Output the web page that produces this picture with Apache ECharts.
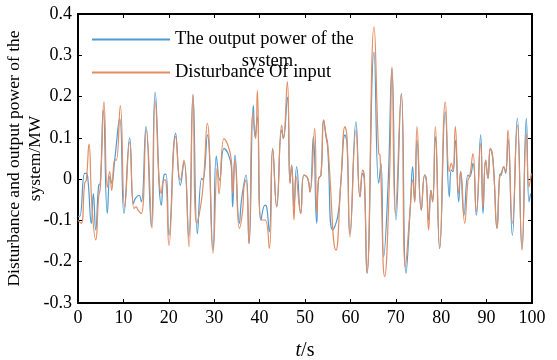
<!DOCTYPE html>
<html>
<head>
<meta charset="utf-8">
<script src="https://cdn.jsdelivr.net/npm/echarts@6/dist/echarts.min.js"></script>
<style>
  html, body { margin: 0; padding: 0; background: #fff; }
  #chart { width: 557px; height: 360px; }
</style>
</head>
<body>
<div id="chart"></div>
<script>
// values
const outT = [0, 0.37, 1.47, 1.84, 2.2, 2.94, 3.38, 3.9, 4.55, 4.92, 5.58, 6.46, 7.05, 7.42, 8.08, 9.18, 10.13, 11.38, 12.19, 12.63, 13.44, 13.95, 14.98, 16.15, 17.0,
  18.36, 18.94, 19.38, 20.04, 21.51, 22.54, 23.35, 24.38, 25.33, 26.3, 27.24, 27.53, 28.49, 29.74, 30.47, 31.2, 32.16, 33.04, 33.77,
  34.07, 34.58, 35.54, 36.05, 37.0, 37.67, 38.62, 38.99, 39.5, 40.31, 41.19, 41.56, 42.14, 42.88, 43.76, 44.86, 45.23, 46.11, 46.7, 47.06, 47.58, 48.16, 49.05, 49.78,
  50.59, 51.1, 51.84, 52.57, 53.01, 53.52, 54.11, 54.63, 54.99, 56.09, 57.2, 57.93, 58.81, 59.25, 59.91, 61.23, 62.11, 62.7, 63.07, 63.66, 65.2, 66.23, 66.74,
  67.33, 68.28, 69.16, 70.04, 71.22, 72.25, 73.2, 73.71, 74.16, 74.67, 75.62, 76.36, 76.72, 77.24, 77.75, 78.12, 78.71, 79.66, 80.91, 81.79, 82.23, 82.6, 83.11, 83.85,
  84.29, 85.02, 85.9, 86.27, 87.0, 87.74, 88.69, 89.21, 89.79, 90.31, 90.82, 91.41, 92.29, 92.88, 93.24, 93.76, 94.2, 94.71, 95.67, 96.77, 97.8, 98.75, 99.34, 99.7];
const outV = [-0.09, -0.09, 0.014, 0.014, -0.002, -0.107, -0.035, -0.123, -0.015, -0.01, 0.167, -0.083, 0.006, -0.01, 0.046, 0.147, -0.083, 0.10, -0.059, -0.047, -0.039, -0.055, 0.127, -0.115, 0.21,
  -0.063, 0.010, 0.012, -0.136, 0.111, -0.015, 0.042, -0.14, 0.203, -0.132, 0.002, -0.002, 0.107, -0.172, 0.056, -0.002, 0.074, 0.062, 0.03,
  -0.067, 0.058, -0.107, -0.047, 0.010, -0.156, 0.179, 0.103, 0.151, -0.099, -0.063, -0.067, -0.128, 0.074, -0.067, 0.119, 0.098, 0.199, -0.01, 0.034, -0.067, 0.03, -0.083, 0.01,
  0.002, -0.031, 0.103, -0.107, 0.002, 0.01, 0.143, 0.103, 0.078, -0.123, -0.091, -0.002, 0.107, 0.086, -0.132, 0.139, -0.043, 0.014, -0.002, -0.228, 0.308, -0.01, 0.038,
  -0.188, -0.019, 0.268, -0.099, 0.207, -0.228, -0.067, 0.03, -0.055, 0.094, -0.075, 0.01, -0.002, -0.099, -0.027, -0.055, 0.103, -0.168, 0.163, -0.043, 0.022, 0.018, 0.094, -0.055,
  0.018, -0.087, 0.01, 0.006, 0.038, -0.087, 0.107, -0.083, 0.046, 0.002, 0.074, 0.046, -0.119, 0.01, 0.014, 0.03, 0.014, 0.098, -0.136, 0.147, -0.168, 0.147, -0.055, -0.035];

const distT = [0, 0.7, 1.47, 1.84, 2.42, 3.08, 3.9, 4.55, 4.92, 5.73, 6.46, 6.97, 7.42, 8.08, 8.44, 9.32, 10.28, 11.38, 12.33, 12.85, 13.2, 13.95, 15.05, 16.3, 17.0,
  18.36, 18.94, 19.38, 20.04, 21.51, 22.54, 23.35, 24.45, 25.33, 26.14, 27.39, 28.49, 29.74, 30.69, 31.06, 32.16, 32.89, 33.77,
  34.07, 34.58, 35.54, 36.27, 36.56, 37.0, 37.67, 38.47, 39.13, 39.5, 40.31, 41.19, 42.14, 42.88, 43.76, 44.86, 45.23, 46.11, 46.7, 47.06, 47.58, 48.02, 49.05, 49.78,
  50.59, 51.1, 52.13, 52.57, 53.01, 53.52, 54.11, 54.63, 54.99, 56.83, 57.93, 58.81, 59.25, 59.91, 61.23, 62.11, 62.7, 63.07, 63.66, 65.2, 66.23, 66.52,
  67.55, 68.58, 69.16, 69.9, 71.22, 72.1, 73.2, 73.71, 74.16, 74.67, 75.62, 76.36, 76.72, 77.24, 77.75, 78.12, 78.71, 79.66, 80.91, 81.79, 82.23, 82.6, 83.11, 83.85,
  84.29, 85.17, 85.9, 86.27, 87.0, 87.74, 88.69, 89.21, 89.79, 90.31, 90.82, 91.41, 92.29, 92.88, 93.24, 93.76, 94.2, 94.71, 95.67, 96.77, 97.8, 98.75, 99.34, 99.85];
const distV = [-0.10, -0.107, -0.01, -0.002, 0.085, -0.067, -0.147, -0.043, -0.02, 0.187, -0.02, 0.018, -0.027, 0.046, 0.046, 0.178, -0.067, 0.09, -0.071, -0.067, -0.075, -0.083, 0.119, -0.119, 0.19,
  -0.035, -0.002, -0.004, -0.16, 0.103, -0.002, 0.046, -0.164, 0.206, -0.107, -0.035, 0.135, -0.18, 0.03, -0.035, 0.098, 0.086, 0.046,
  -0.035, 0.046, -0.119, -0.075, -0.019, -0.002, -0.156, 0.159, 0.098, 0.215, -0.099, -0.099, -0.168, 0.074, -0.067, 0.131, 0.098, 0.236, -0.01, 0.034, -0.099, 0.006, -0.083, 0.01,
  0.002, -0.031, 0.123, -0.083, 0.002, 0.01, 0.143, 0.107, 0.086, -0.172, -0.002, 0.127, 0.103, -0.14, 0.119, -0.043, 0.022, 0.006, -0.228, 0.369, 0.062, 0.058,
  -0.236, -0.01, 0.272, -0.083, 0.207, -0.212, -0.067, -0.002, -0.055, 0.127, -0.075, 0.01, -0.002, -0.123, -0.027, -0.055, 0.127, -0.168, 0.187, 0.018, 0.038, 0.022, 0.127, -0.035,
  0.018, -0.107, -0.002, 0.006, 0.062, -0.079, 0.086, -0.067, 0.046, 0.002, 0.074, 0.046, -0.119, 0.006, 0.01, 0.03, 0.018, 0.119, -0.107, 0.131, -0.172, 0.11, -0.019, 0.014];

const xTicks = [0, 10, 20, 30, 40, 50, 60, 70, 80, 90, 100];
const yTicks = ['-0.3', '-0.2', '-0.1', '0', '0.1', '0.2', '0.3', '0.4'];

const font = 'Liberation Serif';
const pairs = (t, v) => t.map((x, i) => [x, v[i]]);

const chart = echarts.init(document.getElementById('chart'));

const frame = { show: true, onZero: false, lineStyle: { color: '#000', width: 2 } };
const ticksIn = { show: true, inside: true, length: 4, lineStyle: { color: '#000', width: 1 } };

chart.setOption({
  animation: false,
  grid: { left: 78, right: 25, top: 14, bottom: 57, containLabel: false, outerBoundsMode: 'none' },
  legend: [
    {
      data: ['The output power of the system'],
      left: 87, top: 3,
      icon: 'rect', itemWidth: 78, itemHeight: 2,
      formatter: () => '{z| }\n{a|The output power of the}\n{b|system}',
      textStyle: {
        fontFamily: font, fontSize: 18, color: '#000',
        rich: {
          z: { fontFamily: font, fontSize: 18.5, lineHeight: 22 },
          a: { fontFamily: font, fontSize: 18.5, lineHeight: 22 },
          b: { fontFamily: font, fontSize: 18.5, lineHeight: 22, width: 185, align: 'center' }
        }
      }
    },
    {
      data: ['Disturbance Of input'],
      left: 87, top: 58,
      icon: 'rect', itemWidth: 78, itemHeight: 2,
      textStyle: { fontFamily: font, fontSize: 18.5, color: '#000' }
    }
  ],
  xAxis: [
    {
      type: 'value', min: 0, max: 100, interval: 10,
      name: '{i|t}/s', nameLocation: 'middle', nameGap: 38,
      nameTextStyle: {
        fontFamily: font, fontSize: 20, color: '#000',
        rich: { i: { fontFamily: font, fontSize: 20, fontStyle: 'italic', color: '#000' } }
      },
      axisLine: frame, axisTick: ticksIn, splitLine: { show: false },
      axisLabel: {
        fontFamily: font, fontSize: 18, color: '#000', margin: 6,
        formatter: v => String(xTicks[Math.round(v / 10)])
      }
    },
    {
      type: 'value', min: 0, max: 100, interval: 10, position: 'top',
      axisLine: frame, axisTick: ticksIn, splitLine: { show: false },
      axisLabel: { show: false }
    }
  ],
  yAxis: [
    {
      type: 'value', min: -0.3, max: 0.4, interval: 0.1,
      name: 'Disturbance and output power of the\nsystem/MW',
      nameLocation: 'middle', nameRotate: 90, nameGap: 32, nameMoveOverlap: false,
      nameTextStyle: { fontFamily: font, fontSize: 17.5, color: '#000', lineHeight: 21 },
      axisLine: frame, axisTick: ticksIn, splitLine: { show: false },
      axisLabel: {
        fontFamily: font, fontSize: 18, color: '#000', margin: 6,
        formatter: v => yTicks[Math.round(v * 10) + 3]
      }
    },
    {
      type: 'value', min: -0.3, max: 0.4, interval: 0.1, position: 'right',
      axisLine: frame, axisTick: ticksIn, splitLine: { show: false },
      axisLabel: { show: false }
    }
  ],
  series: [
    {
      name: 'The output power of the system',
      type: 'line', data: pairs(outT, outV),
      showSymbol: false, smooth: 0.5,
      itemStyle: { color: '#4f9bd0' },
      lineStyle: { color: '#4f9bd0', width: 1.2 }
    },
    {
      name: 'Disturbance Of input',
      type: 'line', data: pairs(distT, distV),
      showSymbol: false, smooth: 0.5,
      itemStyle: { color: '#e38d62' },
      lineStyle: { color: '#e38d62', width: 1.2 }
    }
  ]
});
</script>
</body>
</html>
